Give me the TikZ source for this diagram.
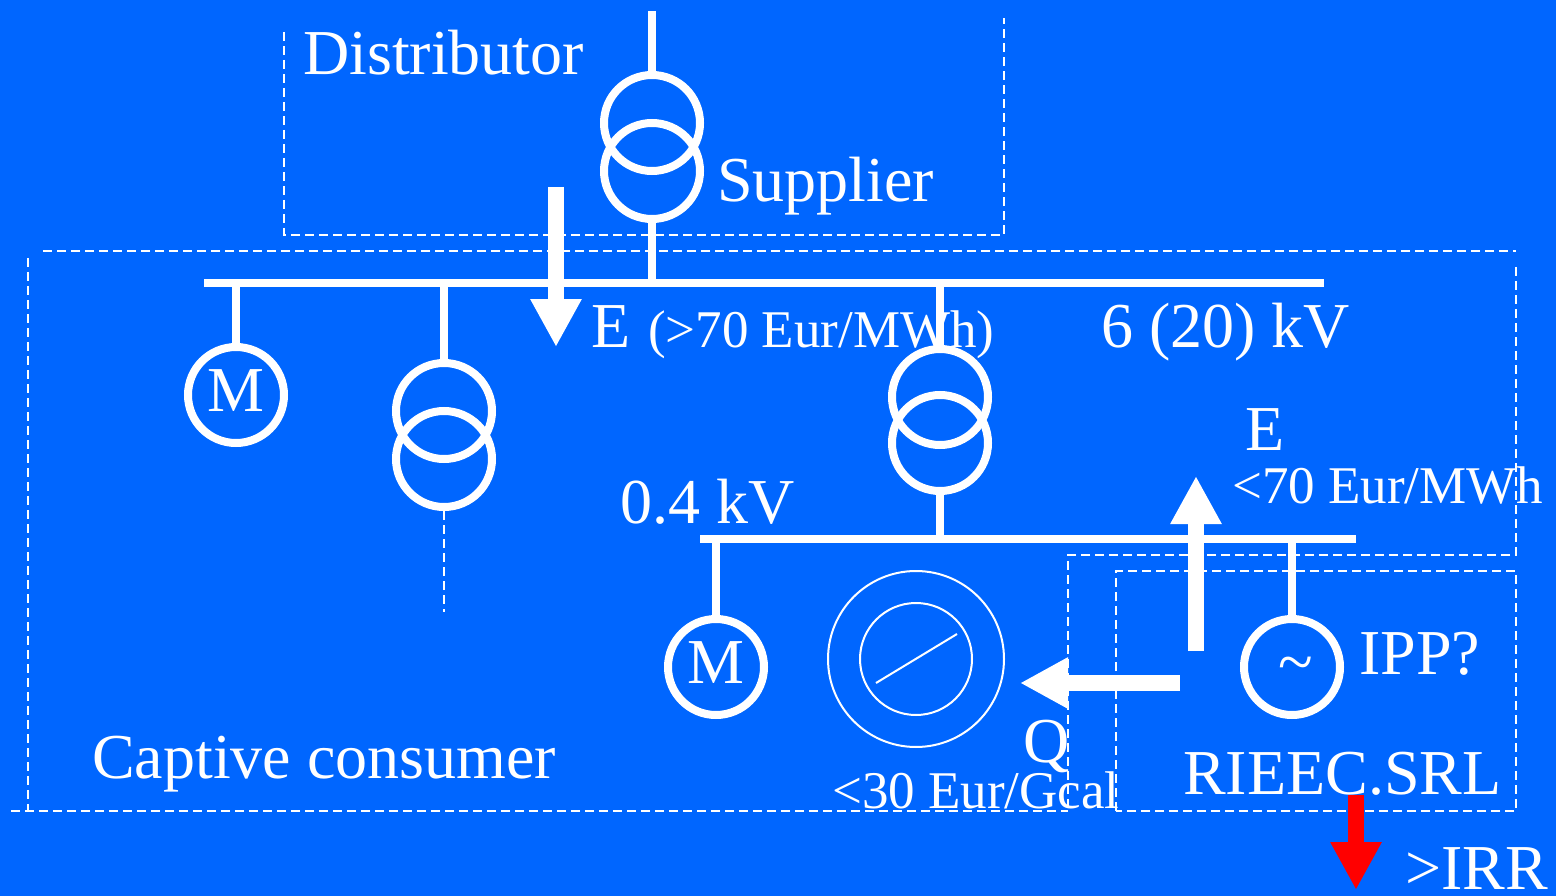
\documentclass[tikz,border=0pt]{standalone}
\usepackage{fontspec}
\setmainfont{Liberation Serif}
\usetikzlibrary{arrows.meta}
\definecolor{bgblue}{HTML}{0066FF}
\tikzset{
  wire/.style={draw=white,line width=8pt},
  busbar/.style={draw=white,line width=8pt},
  dashbox/.style={draw=white,line width=2pt,dash pattern=on 9pt off 5pt},
  ring/.style={circle,draw=white,line width=8pt,minimum size=96pt,inner sep=0pt,text=white},
  thinring/.style={circle,draw=white,line width=2pt,inner sep=0pt},
  big/.style={text=white,inner sep=0pt,anchor=base west,font=\fontsize{64}{64}\selectfont},
  small/.style={text=white,inner sep=0pt,anchor=base west,font=\fontsize{53}{53}\selectfont},
  bigc/.style={big,anchor=base},
  flow/.style={draw=#1,line width=16pt,-{Triangle[length=48pt,width=48pt,fill=#1]}},
}
\begin{document}
\begin{tikzpicture}[x=1pt,y=-1pt]
\useasboundingbox[fill=bgblue] (0,0) rectangle (1556,896);

% dashed boundaries
\draw[dashbox] (284,32) -- (284,235) -- (1004,235) -- (1004,18);
\draw[dashbox] (43,251) -- (1516,251);
\draw[dashbox] (1516,267) -- (1516,555) -- (1068,555) -- (1068,811);
\draw[dashbox] (28,258) -- (28,811);
\draw[dashbox] (11,811) -- (1068,811);
\draw[dashbox] (1116,811) -- (1116,571) -- (1516,571) -- (1516,811) -- cycle;

% texts
\node[big] (tdist) at (303,75) {Distributor};
\node[big] (tsup) at (717,202) {Supplier};
\node[big] (te1) at (591,347) {E};
\node[small] (tp1) at (648,347) {(>70 Eur/MWh)};
\node[big] (tkv6) at (1101,347) {6 (20) kV};
\node[big] (te2) at (1245,450) {E};
\node[small] (tp2) at (1232,503) {<70 Eur/MWh};
\node[big] (tkv04) at (620,523) {0.4 kV};
\node[big] (tipp) at (1359,674) {IPP?};
\node[big] (tq) at (1023,762) {Q};
\node[small] (tp3) at (832,808) {<30 Eur/Gcal};
\node[big] (tcap) at (92,778) {Captive consumer};
\node[big] (trie) at (1183,794) {RIEEC.SRL};
\node[big] (tirr) at (1405,889) {>IRR};

% equipment
\node[ring] (t1a) at (652,123) {};
\node[ring] (t1b) at (652,171) {};
\node[ring] (m1) at (236,395) {};
\node[bigc] (m1t) at (236,411) {M};
\node[ring] (t2a) at (444,411) {};
\node[ring] (t2b) at (444,459) {};
\node[ring] (t3a) at (940,397) {};
\node[ring] (t3b) at (940,443) {};
\node[ring] (m2) at (716,667) {};
\node[bigc] (m2t) at (716,683) {M};
\node[ring] (gen) at (1292,667) {};
\node[bigc] (gent) at (1296,683) {\char`~};
\node[thinring,minimum size=176pt] (boil) at (916,659) {};
\node[thinring,minimum size=112pt] (boili) at (916,659) {};
\coordinate (ga) at (876,683);
\coordinate (gb) at (957,634);
\draw[white,line width=2pt] (ga) -- (gb);

% busbars
\coordinate (b1l) at (204,283);
\coordinate (b1r) at (1324,283);
\coordinate (b2l) at (700,539);
\coordinate (b2r) at (1356,539);
\draw[busbar] (b1l) -- (b1r);
\draw[busbar] (b2l) -- (b2r);

% connectors
\coordinate (feed) at (652,11);
\coordinate (b1t) at (652,283);
\coordinate (b1m) at (236,283);
\coordinate (b1x) at (444,283);
\coordinate (b1y) at (940,283);
\coordinate (b2y) at (940,539);
\coordinate (b2m) at (716,539);
\coordinate (b2g) at (1292,539);
\coordinate (dashend) at (444,612);
\draw[wire] (feed) -- (t1a.north);
\draw[wire] (t1b.south) -- (b1t);
\draw[wire] (b1m) -- (m1.north);
\draw[wire] (b1x) -- (t2a.north);
\draw[wire] (b1y) -- (t3a.north);
\draw[wire] (t3b.south) -- (b2y);
\draw[wire] (b2m) -- (m2.north);
\draw[wire] (b2g) -- (gen.north);
\draw[dashbox] (t2b.south) -- (dashend);

% flow arrows
\coordinate (f1a) at (556,187); \coordinate (f1b) at (556,347);
\coordinate (f2a) at (1196,651); \coordinate (f2b) at (1196,476);
\coordinate (f3a) at (1180,683); \coordinate (f3b) at (1020,683);
\coordinate (f4a) at (1356,795); \coordinate (f4b) at (1356,890);
\draw[flow=white] (f1a) -- (f1b);
\draw[flow=white] (f2a) -- (f2b);
\draw[flow=white] (f3a) -- (f3b);
\draw[flow=red] (f4a) -- (f4b);
\end{tikzpicture}
\end{document}
